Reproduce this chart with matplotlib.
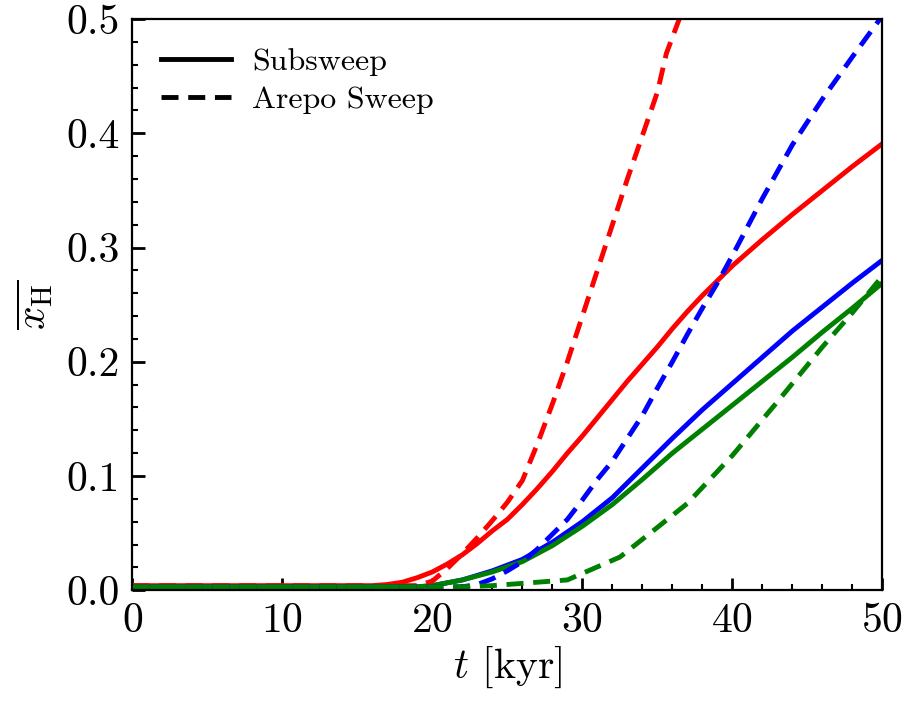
import numpy as np
import matplotlib
matplotlib.use('Agg')
import matplotlib.pyplot as plt

plt.rcParams['font.family'] = 'serif'
plt.rcParams['font.serif'] = ['cmr10']
plt.rcParams['mathtext.fontset'] = 'cm'
plt.rcParams['axes.formatter.use_mathtext'] = True

# mean neutral fraction vs time, subsweep runs
t_sub = [0, 5, 10, 15, 16, 17, 18, 19, 20, 21, 22, 23, 24, 25, 26, 27, 28, 29, 30,
         31, 32, 33, 34, 35, 36, 37, 38, 39, 40, 42, 44, 46, 48, 50]
red_sub = [0.004, 0.004, 0.004, 0.004, 0.004, 0.005, 0.007, 0.011, 0.016, 0.023, 0.031,
           0.041, 0.052, 0.062, 0.075, 0.089, 0.104, 0.120, 0.135, 0.151, 0.167, 0.183,
           0.198, 0.213, 0.229, 0.244, 0.258, 0.271, 0.284, 0.307, 0.329, 0.350, 0.371, 0.391]

t_sub2 = [0, 5, 10, 15, 18, 19, 20, 22, 24, 26, 28, 30, 32, 34, 36, 38, 40, 42, 44, 46, 48, 50]
blue_sub = [0.003, 0.003, 0.003, 0.003, 0.003, 0.003, 0.004, 0.009, 0.017, 0.027, 0.042,
            0.060, 0.081, 0.107, 0.133, 0.158, 0.181, 0.204, 0.227, 0.248, 0.269, 0.289]
green_sub = [0.003, 0.003, 0.003, 0.003, 0.003, 0.003, 0.004, 0.009, 0.016, 0.025, 0.039,
             0.056, 0.075, 0.097, 0.120, 0.141, 0.162, 0.183, 0.204, 0.226, 0.247, 0.269]

# arepo sweep runs
t_red_sw = [0, 5, 10, 15, 19, 20, 21, 22, 23, 24, 25, 26, 27, 28, 29, 30, 31, 32, 33,
            34, 35, 35.6, 36.6]
red_sw = [0.004, 0.004, 0.004, 0.004, 0.004, 0.008, 0.019, 0.032, 0.046, 0.061, 0.077,
          0.096, 0.128, 0.163, 0.200, 0.240, 0.280, 0.320, 0.360, 0.398, 0.436, 0.470, 0.505]

t_blue_sw = [0, 5, 10, 15, 20, 22, 23, 24, 25, 26, 27, 28, 29, 30, 31, 32, 33, 34, 35,
             36, 37, 38, 39, 40, 42, 44, 46, 48, 50]
blue_sw = [0.003, 0.003, 0.003, 0.003, 0.003, 0.003, 0.005, 0.010, 0.017, 0.025, 0.036,
           0.049, 0.062, 0.079, 0.097, 0.113, 0.133, 0.153, 0.177, 0.200, 0.224, 0.247,
           0.269, 0.293, 0.343, 0.390, 0.430, 0.467, 0.503]

t_green_sw = [0, 5, 10, 15, 20, 22, 24, 26, 29, 32.5, 35, 37, 40, 43, 46, 48, 50]
green_sw = [0.003, 0.003, 0.003, 0.003, 0.003, 0.003, 0.004, 0.006, 0.009, 0.029, 0.055,
            0.076, 0.118, 0.165, 0.213, 0.243, 0.275]

fig = plt.figure(figsize=(9.06, 7.06), dpi=100)
ax = fig.add_axes([0.146, 0.164, 0.828, 0.809])

lw = 3.5
dash = (0, (3.5, 2))
ax.plot(t_sub, red_sub, color='red', lw=lw)
ax.plot(t_sub2, blue_sub, color='blue', lw=lw)
ax.plot(t_sub2, green_sub, color='green', lw=lw)
ax.plot(t_red_sw, red_sw, color='red', lw=lw, ls=dash)
ax.plot(t_blue_sw, blue_sw, color='blue', lw=lw, ls=dash)
ax.plot(t_green_sw, green_sw, color='green', lw=lw, ls=dash)

# legend uses black proxies for the line styles
ax.plot([], [], color='black', lw=lw, label='Subsweep')
ax.plot([], [], color='black', lw=lw, ls=dash, label='Arepo Sweep')
handles, labels = ax.get_legend_handles_labels()
ax.legend(handles, labels, loc='upper left', frameon=False, fontsize=23,
          handlelength=2.2, handletextpad=0.65, borderaxespad=0.5, labelspacing=0.3)

ax.set_xlim(0, 50)
ax.set_ylim(0, 0.5)
ax.set_xticks([0, 10, 20, 30, 40, 50])
ax.set_yticks([0.0, 0.1, 0.2, 0.3, 0.4, 0.5])
ax.set_xticks(np.arange(0, 51, 2), minor=True)
ax.set_yticks(np.arange(0, 0.501, 0.02), minor=True)
ax.set_yticklabels(['0.0', '0.1', '0.2', '0.3', '0.4', '0.5'])
ax.tick_params(which='major', direction='in', length=9, width=2, labelsize=30, pad=9)
ax.tick_params(which='minor', direction='in', length=4, width=1.5)
for s in ax.spines.values():
    s.set_linewidth(1.6)

ax.set_xlabel(r'$t$ [kyr]', fontsize=30, labelpad=3)
ax.set_ylabel(r'$\overline{x_{\rm H}}$', fontsize=30, labelpad=8)

fig.savefig('out.png', dpi=100)
